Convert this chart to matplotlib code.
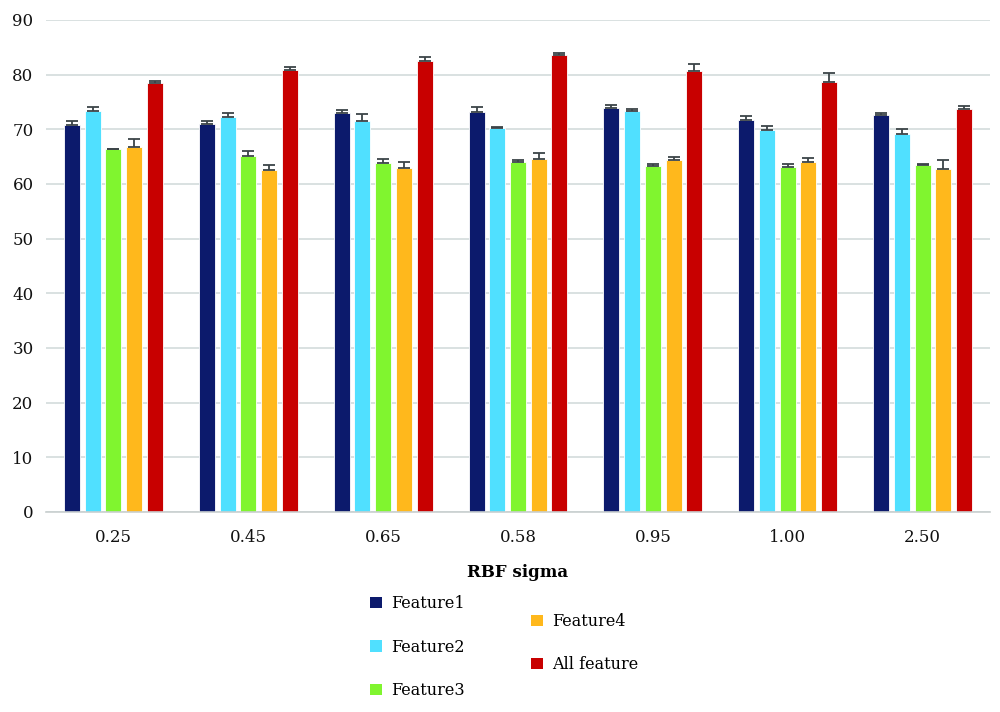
import numpy as np
import matplotlib
matplotlib.use("Agg")
import matplotlib.pyplot as plt
from matplotlib.patches import Patch

# Data
sigmas = ["0.25", "0.45", "0.65", "0.58", "0.95", "1.00", "2.50"]
series_names = ["Feature1", "Feature2", "Feature3", "Feature4", "All feature"]

feature1 = [70.7, 71.0, 73.0, 73.2, 73.8, 71.65, 72.7]
feature2 = [73.4, 72.2, 71.5, 70.3, 73.35, 69.9, 69.1]
feature3 = [66.3, 65.2, 63.85, 64.0, 63.35, 63.1, 63.4]
feature4 = [66.7, 62.5, 62.9, 64.6, 64.3, 64.1, 62.7]
all_feature = [78.4, 80.8, 82.4, 83.5, 80.7, 78.65, 73.65]

err1 = [0.85, 0.55, 0.6, 0.8, 0.55, 0.7, 0.25]
err2 = [0.7, 0.85, 1.3, 0.2, 0.4, 0.7, 1.0]
err3 = [0.1, 0.85, 0.7, 0.3, 0.25, 0.5, 0.3]
err4 = [1.45, 1.0, 1.1, 1.0, 0.7, 0.7, 1.7]
err_all = [0.4, 0.65, 0.8, 0.4, 1.3, 1.6, 0.65]

colors = ["#0c1a6c", "#50e0ff", "#80f52f", "#ffb81c", "#c80000"]

values = [feature1, feature2, feature3, feature4, all_feature]
errors = [err1, err2, err3, err4, err_all]

plt.rcParams["font.family"] = ["DejaVu Serif"]

fig = plt.figure(figsize=(10, 7.12), dpi=100)
ax = fig.add_axes([0.046, 0.281, 0.944, 0.691])

x = np.arange(len(sigmas))
step = 0.1537
width = 0.118
for i, (vals, errs) in enumerate(zip(values, errors)):
    pos = x + (i - 2) * step
    ax.bar(pos, vals, width=width, color=colors[i], edgecolor="white",
           linewidth=0.6, zorder=2)
    ax.errorbar(pos, vals, yerr=[np.zeros(len(errs)), errs], fmt="none",
                ecolor="#3c4448", elinewidth=1.3, capsize=4, capthick=1.3,
                zorder=3)

ax.set_xlim(-0.5, 6.5)
ax.set_ylim(0, 90)
ax.set_yticks(range(0, 91, 10))
ax.set_xticks(x)
ax.set_xticklabels(sigmas)
ax.yaxis.grid(True, color="#d3dbdb", linewidth=1.2, zorder=0)
ax.set_axisbelow(True)
for side in ["left", "right", "top"]:
    ax.spines[side].set_visible(False)
ax.spines["bottom"].set_color("#c9cfcf")
ax.spines["bottom"].set_linewidth(1.2)
ax.tick_params(axis="both", length=0, labelsize=12, colors="#111111")
ax.tick_params(axis="x", pad=12)
ax.tick_params(axis="y", pad=9)
ax.set_xlabel("RBF sigma", fontsize=12, fontweight="bold", labelpad=13)

handles = [Patch(facecolor=c, edgecolor="none") for c in colors]
leg1 = fig.legend(handles[:3], series_names[:3], loc="upper left",
                  bbox_to_anchor=(0.364, 0.173), frameon=False, fontsize=11.5,
                  handlelength=0.7, handleheight=0.7, handletextpad=0.6,
                  labelspacing=1.65, borderaxespad=0)
fig.legend(handles[3:], series_names[3:], loc="upper left",
           bbox_to_anchor=(0.525, 0.148), frameon=False, fontsize=11.5,
           handlelength=0.7, handleheight=0.7, handletextpad=0.6,
           labelspacing=1.65, borderaxespad=0)

fig.savefig("out.png", dpi=100)
